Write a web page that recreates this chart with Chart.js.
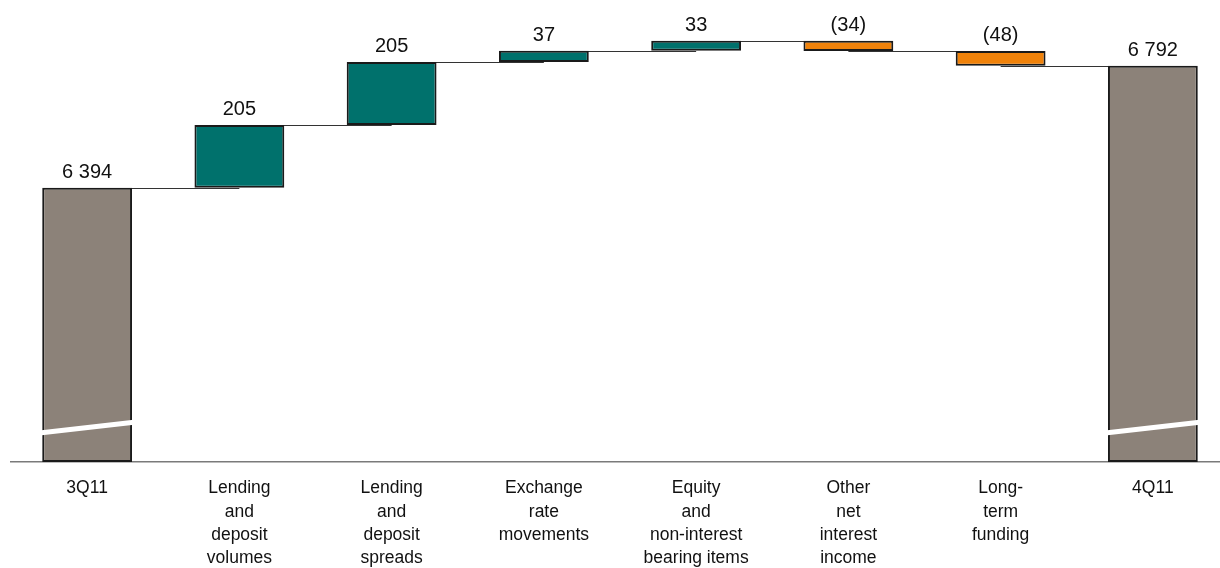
<!DOCTYPE html>
<html>
<head>
<meta charset="utf-8">
<script src="https://cdn.jsdelivr.net/npm/chart.js@4.4.1/dist/chart.umd.min.js"></script>
<style>
  html, body { margin: 0; padding: 0; background: #fff; overflow: hidden; }
  #wrap { position: relative; width: 1229px; height: 568px; }
</style>
</head>
<body>
<div id="wrap"><canvas id="nii"></canvas></div>
<script>
// Net interest income bridge, 3Q11 -> 4Q11
const categories = [
    ["3Q11"],
    ["Lending", "and", "deposit", "volumes"],
    ["Lending", "and", "deposit", "spreads"],
    ["Exchange", "rate", "movements"],
    ["Equity", "and", "non-interest", "bearing items"],
    ["Other", "net", "interest", "income"],
    ["Long-", "term", "funding"],
    ["4Q11"]
];
const startValue = 6394;
const changes = [205, 205, 37, 33, -34, -48];
const endValue = 6792;

// axis is broken, bars start from this value
const axisMin = 5500;
const axisMax = 7000;

const colTotal = "#8c8279";
const colUp = "#00716c";
const colDown = "#f0820a";

// build floating bars [from, to]
let ranges = [[axisMin, startValue]];
let levels = [startValue];
let colors = [colTotal];
let labelValues = [startValue];
let run = startValue;
changes.forEach(c => {
    ranges.push([run, run + c]);
    run += c;
    levels.push(run);
    colors.push(c >= 0 ? colUp : colDown);
    labelValues.push(c);
});
ranges.push([axisMin, endValue]);
levels.push(endValue);
colors.push(colTotal);
labelValues.push(endValue);

function fmt(v) {
    let s = String(Math.abs(v)).replace(/\B(?=(\d{3})+(?!\d))/g, " ");
    return v < 0 ? "(" + s + ")" : s;
}

const bridgePlugin = {
    id: "bridge",
    beforeDatasetsDraw(chart) {
        const ctx = chart.ctx;
        const bars = chart.getDatasetMeta(0).data;
        const y = chart.scales.y;
        ctx.save();
        ctx.strokeStyle = "#333";
        ctx.lineWidth = 1;
        for (let i = 0; i < bars.length - 1; i++) {
            const a = bars[i], b = bars[i + 1];
            const py = Math.round(y.getPixelForValue(levels[i])) + 0.5;
            ctx.beginPath();
            ctx.moveTo(a.x, py);
            ctx.lineTo(b.x, py);
            ctx.stroke();
        }
        ctx.restore();
    },
    afterDatasetsDraw(chart) {
        const ctx = chart.ctx;
        const bars = chart.getDatasetMeta(0).data;
        const y = chart.scales.y;
        ctx.save();

        // break marks on the total bars
        ctx.strokeStyle = "#fff";
        ctx.lineWidth = 5;
        [0, bars.length - 1].forEach(i => {
            const b = bars[i];
            const cy = y.getPixelForValue(5614);
            ctx.beginPath();
            ctx.moveTo(b.x - b.width / 2 - 16, cy + 7.5);
            ctx.lineTo(b.x + b.width / 2 + 26, cy - 7.5);
            ctx.stroke();
        });

        // value labels
        ctx.fillStyle = "#111";
        ctx.font = "20px 'Liberation Sans', Arial, sans-serif";
        ctx.textAlign = "center";
        ctx.textBaseline = "alphabetic";
        bars.forEach((b, i) => {
            const top = Math.max(ranges[i][0], ranges[i][1]);
            ctx.fillText(fmt(labelValues[i]), b.x, y.getPixelForValue(top) - 10);
        });
        ctx.restore();
    }
};

new Chart(document.getElementById("nii"), {
    type: "bar",
    data: {
        labels: categories,
        datasets: [{
            data: ranges,
            backgroundColor: colors,
            borderColor: "#1a1a1a",
            borderWidth: 2,
            borderSkipped: false,
            categoryPercentage: 1,
            barPercentage: 0.59
        }]
    },
    options: {
        responsive: true,
        maintainAspectRatio: false,
        animation: false,
        layout: { padding: { left: 11, top: 2, right: 0, bottom: 0 } },
        plugins: { legend: { display: false }, tooltip: { enabled: false } },
        scales: {
            x: {
                grid: { display: false, drawTicks: false },
                border: { display: true, color: "#7a7a7a", width: 1.5 },
                ticks: {
                    color: "#111",
                    padding: 15,
                    maxRotation: 0,
                    autoSkip: false,
                    font: { family: "'Liberation Sans', Arial, sans-serif", size: 17.5, lineHeight: 1.33 }
                },
                afterFit(scale) { scale.height = 106; }
            },
            y: {
                display: false,
                min: axisMin,
                max: axisMax
            }
        }
    },
    plugins: [bridgePlugin]
});
</script>
</body>
</html>
